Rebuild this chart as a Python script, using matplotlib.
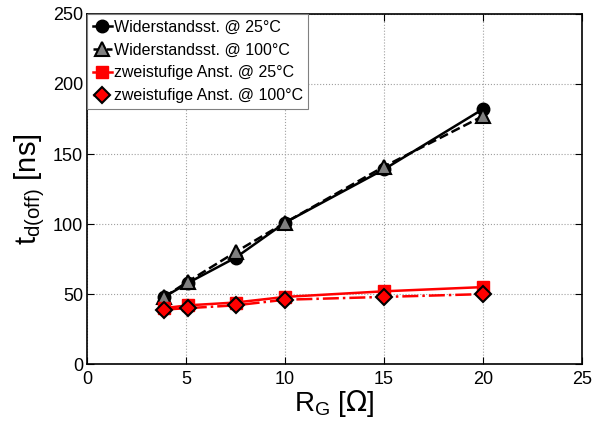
import numpy as np
import matplotlib.pyplot as plt

plt.rcParams['font.family'] = ['Liberation Sans', 'DejaVu Sans']

rg = [3.9, 5.1, 7.5, 10, 15, 20]
wid_25 = [48, 58, 76, 101, 139, 182]
wid_100 = [48, 59, 80, 101, 141, 177]
zw_25 = [40, 42, 44, 48, 52, 55]
zw_100 = [39, 40, 42, 46, 48, 50]

fig = plt.figure(figsize=(5.93, 4.21), dpi=100)
ax = fig.add_axes([0.147, 0.135, 0.834, 0.832])

ax.plot(rg, wid_25, c='black', ls='-', lw=1.8, marker='o', ms=9, mfc='black', mec='black', label='Widerstandsst. @ 25°C')
ax.plot(rg, wid_100, c='black', ls='--', lw=1.8, marker='^', ms=10, mfc='gray', mec='black', mew=1.5, label='Widerstandsst. @ 100°C')
ax.plot(rg, zw_25, c='red', ls='-', lw=1.8, marker='s', ms=9, mfc='red', mec='red', label='zweistufige Anst. @ 25°C')
ax.plot(rg, zw_100, c='red', ls='-.', lw=1.8, marker='D', ms=8, mfc='red', mec='black', mew=1.5, label='zweistufige Anst. @ 100°C')

ax.set_xlim(0, 25)
ax.set_ylim(0, 250)
ax.set_xticks([0, 5, 10, 15, 20, 25])
ax.set_yticks([0, 50, 100, 150, 200, 250])
ax.tick_params(labelsize=13, direction='in', top=True, right=True, length=5)
ax.tick_params(axis='x', pad=5)
ax.tick_params(axis='y', pad=3)
ax.grid(True, ls=':', c='#a0a0a0', lw=0.8)
for s in ax.spines.values():
    s.set_linewidth(1.2)

ax.set_xlabel(r'R$_\mathregular{G}$ [$\Omega$]', fontsize=20, labelpad=0)
ax.set_ylabel(r't$_\mathregular{d(off)}$ [ns]', fontsize=21, labelpad=4)

leg = ax.legend(loc='upper left', fontsize=11.5, fancybox=False, edgecolor='gray',
                handlelength=1.2, handletextpad=0.1, borderpad=0.35, labelspacing=0.5,
                borderaxespad=0, framealpha=1)
leg.get_frame().set_linewidth(0.8)

fig.savefig('out.png', dpi=100)
